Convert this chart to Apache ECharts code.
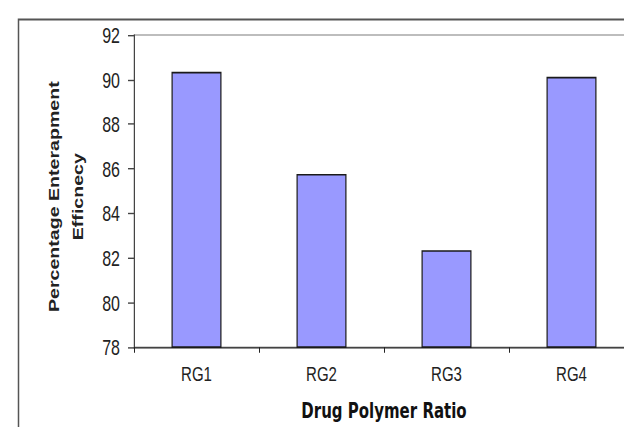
<!DOCTYPE html>
<html>
<head>
<meta charset="utf-8">
<script src="https://cdn.jsdelivr.net/npm/echarts@6/dist/echarts.min.js"></script>
<style>
html,body{margin:0;padding:0;background:#fff;overflow:hidden;}
#wrap{width:624px;height:427px;overflow:hidden;position:relative;background:#fff;}
#chart{width:680px;height:305px;transform:scaleY(1.4);transform-origin:0 0;}
</style>
</head>
<body>
<div id="wrap"><div id="chart"></div></div>
<script>
const categories = ['RG1', 'RG2', 'RG3', 'RG4'];
const efficiency = [90.35, 85.77, 82.35, 90.13];
const yMin = 78, yMax = 92, yStep = 2;
const xTitle = 'Drug Polymer Ratio';
const yTitle = 'Percentage Enterapment\nEfficnecy';

const chart = echarts.init(document.getElementById('chart'), null, {renderer: 'svg'});
chart.setOption({
  animation: false,
  backgroundColor: '#fff',
  graphic: [{
    type: 'rect', left: 16, top: 11.4,
    shape: {width: 700, height: 400},
    style: {fill: 'none', stroke: '#555', lineWidth: 1.5},
    silent: true
  }],
  grid: {left: 134, width: 500, top: 25, height: 223, outerBoundsMode: 'none', containLabel: false, show: true, borderColor: '#a8a8a8', borderWidth: 1, backgroundColor: 'transparent'},
  xAxis: {
    type: 'category',
    data: categories,
    name: xTitle,
    nameLocation: 'middle',
    nameGap: 38,
    nameTextStyle: {fontFamily: 'DejaVu Sans', fontWeight: 'bold', fontSize: 15, color: '#111'},
    axisLine: {lineStyle: {color: '#222', width: 1}},
    axisTick: {show: true, length: 4, lineStyle: {color: '#222'}},
    axisLabel: {fontFamily: 'Liberation Sans', fontSize: 15, color: '#222', margin: 11}
  },
  yAxis: {
    type: 'value',
    min: yMin, max: yMax, interval: yStep,
    name: yTitle,
    nameLocation: 'middle',
    nameRotate: 90,
    nameGap: 44,
    nameTextStyle: {fontFamily: 'Liberation Sans', fontWeight: 'bold', fontSize: 14, color: '#222', lineHeight: 24, padding: [0, 8, 0, 0]},
    axisLine: {show: true, lineStyle: {color: '#444', width: 1}},
    axisTick: {show: true, length: 6, lineStyle: {color: '#444'}},
    axisLabel: {fontFamily: 'Liberation Sans', fontSize: 16, color: '#222', margin: 14},
    splitLine: {show: false}
  },
  series: [{
    type: 'bar',
    data: efficiency,
    barWidth: '40%',
    itemStyle: {color: '#9999FF', borderColor: '#1a1a1a', borderWidth: 1.2}
  }]
});
</script>
</body>
</html>
